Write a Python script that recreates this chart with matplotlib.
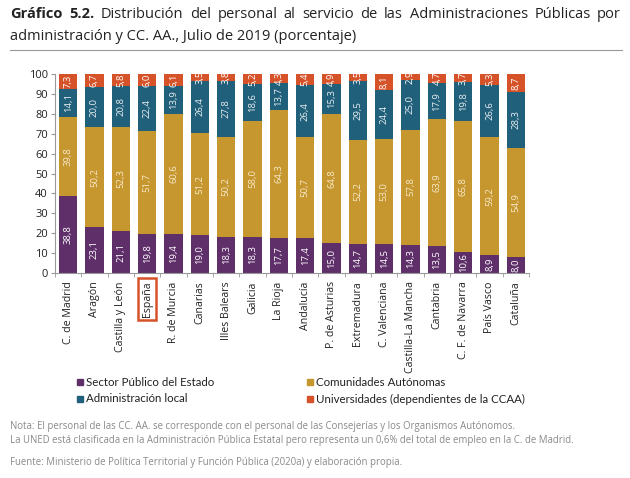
import matplotlib
matplotlib.use("Agg")
import matplotlib.pyplot as plt
from matplotlib.patches import Rectangle
import numpy as np

plt.rcParams['font.family'] = ['Open Sans', 'DejaVu Sans']

categories = ["C. de Madrid", "Aragón", "Castilla y León", "España", "R. de Murcia",
              "Canarias", "Illes Balears", "Galicia", "La Rioja", "Andalucía",
              "P. de Asturias", "Extremadura", "C. Valenciana", "Castilla-La Mancha",
              "Cantabria", "C. F. de Navarra", "País Vasco", "Cataluña"]
sector_publico = [38.8, 23.1, 21.1, 19.8, 19.4, 19.0, 18.3, 18.3, 17.7, 17.4,
                  15.0, 14.7, 14.5, 14.3, 13.5, 10.6, 8.9, 8.0]
comunidades = [39.8, 50.2, 52.3, 51.7, 60.6, 51.2, 50.2, 58.0, 64.3, 50.7,
               64.8, 52.2, 53.0, 57.8, 63.9, 65.8, 59.2, 54.9]
admin_local = [14.1, 20.0, 20.8, 22.4, 13.9, 26.4, 27.8, 18.6, 13.7, 26.4,
               15.3, 29.5, 24.4, 25.0, 17.9, 19.8, 26.6, 28.3]
universidades = [7.3, 6.7, 5.8, 6.0, 6.1, 3.5, 3.8, 5.2, 4.3, 5.4,
                 4.9, 3.5, 8.1, 2.9, 4.7, 3.7, 5.3, 8.7]
series_names = ["Sector Público del Estado", "Comunidades Autónomas",
                "Administración local", "Universidades (dependientes de la CCAA)"]
colors = ["#5F2F6A", "#C6962F", "#21607A", "#D6532A"]
label_colors = ["white", "#F6E9C8", "#E8EEF2", "white"]

W, H = 630, 478
fig = plt.figure(figsize=(W / 100, H / 100), dpi=100)
ax = fig.add_axes([55 / W, 1 - 273 / H, (529 - 55) / W, (273 - 74) / H])

x = np.arange(len(categories))
series = [sector_publico, comunidades, admin_local, universidades]
bottom = np.zeros(len(categories))
for s, c, lc in zip(series, colors, label_colors):
    vals = np.array(s)
    ax.bar(x, vals, 0.7, bottom=bottom, color=c, linewidth=0)
    for xi, v, b in zip(x, vals, bottom):
        ax.text(xi, b + v / 2, f"{v:.1f}".replace(".", ","), rotation=90,
                ha="center", va="center", fontsize=6.8, color=lc)
    bottom = bottom + vals

ax.set_xlim(-0.5, len(categories) - 0.5)
ax.set_ylim(0, 100)
ax.set_yticks(np.arange(0, 101, 10))
ax.tick_params(axis="y", labelsize=8, length=3, color="#999999", pad=2, labelcolor="#222222")
ax.set_xticks(x)
ax.set_xticklabels(categories, rotation=90, fontsize=7.7, color="#222222")
ax.tick_params(axis="x", length=0, pad=6)
ax.set_xticks(np.arange(-0.5, len(categories), 1), minor=True)
ax.tick_params(axis="x", which="minor", length=3, color="#999999")
for sp in ["top", "right"]:
    ax.spines[sp].set_visible(False)
for sp in ["left", "bottom"]:
    ax.spines[sp].set_color("#999999")
    ax.spines[sp].set_linewidth(0.8)

# Box around España
fig.canvas.draw()
lab = ax.get_xticklabels()[3]
bb = lab.get_window_extent()
pad = 3.5
fig.patches.append(Rectangle((bb.x0 - pad, bb.y0 - pad), bb.width + 2 * pad, bb.height + 2 * pad,
                             transform=None, fill=False, edgecolor="#D6532A", linewidth=1.8))

# Legend
leg_items = [(77, 382, 0), (307, 382, 1), (77, 399, 2), (307, 399, 3)]
for px, py, i in leg_items:
    fig.patches.append(Rectangle((px / W, 1 - (py + 3) / H), 6 / W, 6 / H,
                                 transform=fig.transFigure, color=colors[i]))
    fig.text((px + 9) / W, 1 - py / H, series_names[i], fontsize=8.3, family=["Lato", "DejaVu Sans"],
             va="center", ha="left", color="#222222")

# Title (justified first line)
renderer = fig.canvas.get_renderer()
left_px, right_px = 10, 621
y1 = 1 - 14 / H
y2 = 1 - 36 / H
words = [("Gráfico", "bold"), ("5.2.", "bold"), ("Distribución", "normal"), ("del", "normal"),
         ("personal", "normal"), ("al", "normal"), ("servicio", "normal"), ("de", "normal"),
         ("las", "normal"), ("Administraciones", "normal"), ("Públicas", "normal"), ("por", "normal")]
txts = []
for w, fw in words:
    t = fig.text(0, y1, w, fontsize=10.5, fontweight=fw, va="center", ha="left", color="#222222")
    txts.append(t)
widths = [t.get_window_extent(renderer).width for t in txts]
gap = (right_px - left_px - sum(widths)) / (len(words) - 1)
pos = left_px
for t, w in zip(txts, widths):
    t.set_x(pos / W)
    pos += w + gap
fig.text(left_px / W, y2, "administración y CC. AA., Julio de 2019 (porcentaje)", fontsize=10.5,
         va="center", ha="left", color="#222222")
fig.add_artist(plt.Line2D([10 / W, 622 / W], [1 - 50 / H, 1 - 50 / H], transform=fig.transFigure,
                          color="#999999", linewidth=0.8))

# Notes
note_color = "#8A8A8A"
fig.text(10 / W, 1 - 427 / H,
         "Nota: El personal de las CC. AA. se corresponde con el personal de las Consejerías y los Organismos Autónomos.",
         fontsize=6.9, color=note_color, va="center")
fig.text(10 / W, 1 - 441 / H,
         "La UNED está clasificada en la Administración Pública Estatal pero representa un 0,6% del total de empleo en la C. de Madrid.",
         fontsize=6.9, color=note_color, va="center")
fig.text(10 / W, 1 - 463 / H,
         "Fuente: Ministerio de Política Territorial y Función Pública (2020a) y elaboración propia.",
         fontsize=6.9, color=note_color, va="center")

fig.savefig("out.png", dpi=100)
